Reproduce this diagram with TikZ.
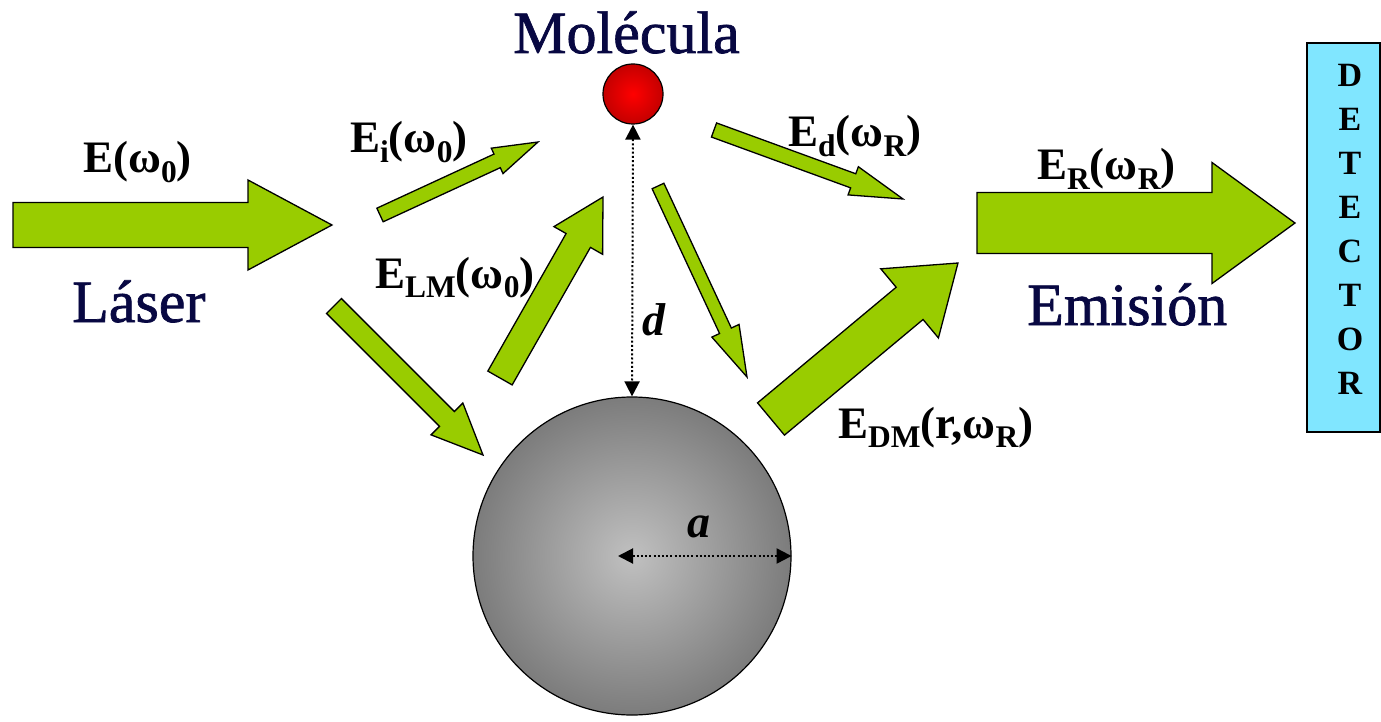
\documentclass[tikz,border=0pt]{standalone}
\usepackage{fontspec}
\setmainfont{Liberation Serif}
\newfontfamily\titelfont[FakeBold=1.2]{Liberation Serif}
\usepackage{graphicx}
\usepackage{tikz}
\usetikzlibrary{arrows.meta, calc, shapes}

\definecolor{laubgruen}{RGB}{153,204,0}
\definecolor{nachtblau}{RGB}{8,8,66}
\definecolor{hellcyan}{RGB}{128,230,255}

\newcommand{\lowsub}[1]{\raisebox{-0.22em}{\scalebox{0.7}{#1}}}
% Blockpfeil (x1,y1)(x2,y2){Schaft}{Kopfbreite}{Kopflaenge}
\def\blockpfeil(#1,#2)(#3,#4)#5#6#7{%
  \pgfmathsetmacro{\bpwinkel}{atan2(#2-#4,#3-#1)}%
  \pgfmathsetmacro{\bplaenge}{veclen(#3-#1,#4-#2)}%
  \begin{scope}[shift={(#1,#2)}, rotate=\bpwinkel]
    \draw[greenarrow] (0,-#5/2) -- ({\bplaenge-#7},-#5/2) -- ({\bplaenge-#7},-#6/2)
      -- (\bplaenge,0) -- ({\bplaenge-#7},#6/2) -- ({\bplaenge-#7},#5/2) -- (0,#5/2) -- cycle;
  \end{scope}}

\begin{document}
\begin{tikzpicture}[x=1pt, y=-1pt,
      greenarrow/.style={fill=laubgruen, draw=black, line width=1.3pt, line join=miter},
      titel/.style={text=nachtblau, font=\fontsize{60}{66}\titelfont, inner sep=0pt, anchor=base west},
      eqlabel/.style={font=\fontsize{45}{50}\selectfont\bfseries, inner sep=0pt, anchor=base west},
      varlabel/.style={font=\fontsize{46}{50}\selectfont\bfseries\itshape, inner sep=0pt, anchor=base west},
      detletter/.style={font=\fontsize{34}{36}\selectfont\bfseries, inner sep=0pt},
      spitze/.tip={Triangle[length=15pt,width=15pt]},
      masspfeil/.style={dash pattern=on 2pt off 2.2pt, line width=2pt, spitze-spitze}]
  \useasboundingbox (0,0) rectangle (1381,722);
  % Kugel und Molekuel
  \node[circle, draw=black, line width=1.2pt, minimum size=318pt, inner sep=0pt,
        inner color={rgb,255:red,192;green,192;blue,192}, outer color={rgb,255:red,124;green,124;blue,124}] (kugel) at (632,556) {};
  \node[circle, draw=black, line width=1.2pt, minimum size=60pt, inner sep=0pt,
        inner color=red, outer color={rgb,255:red,196;green,0;blue,0}] (molekuel) at (633,94) {};
  % Abstaende d und a
  \draw[masspfeil] (molekuel.south) -- (kugel.north);
  \coordinate (mitte) at ([xshift=-14pt]kugel.center);
  \draw[masspfeil] (mitte) -- (kugel.east);
  % Pfeile zeichnen
  \blockpfeil(13,225)(332,225){45}{90}{84}
  \blockpfeil(977,223)(1295,223){61}{121}{83}
  \blockpfeil(380,215)(538,142){15}{28}{45}
  \blockpfeil(500,378)(603,197){28}{56}{50}
  \blockpfeil(334,306)(483,455){21}{45}{51}
  \blockpfeil(714,130)(903,199){15}{30}{53}
  \blockpfeil(658,186)(747,377){13}{30}{51}
  \blockpfeil(771,419)(958,263){42}{90}{63}
  % Detektor
  \node[draw=black, line width=1.3pt, fill=hellcyan, minimum width=73pt, minimum height=389pt, inner sep=0pt] (detektor) at (1343.5,237.5) {};
  \foreach \ch [count=\i] in {D,E,T,E,C,T,O,R}
    \node[detletter] (det\i) at (1350,{31+44*\i}) {\ch};
  % Beschriftung
  \node[titel] (laser) at (72,322) {Láser};
  \node[titel] (molecula) at (513,53) {Molécula};
  \node[titel] (emision) at (1027,325) {Emisión};
  \node[eqlabel] (el) at (83,173) {E(ω\lowsub{0})};
  \node[eqlabel] (ei) at (350,153) {E\lowsub{i}(ω\lowsub{0})};
  \node[eqlabel] (elm) at (375,288) {E\lowsub{LM}(ω\lowsub{0})};
  \node[eqlabel] (ed) at (788,147) {E\lowsub{d}(ω\lowsub{R})};
  \node[eqlabel] (er) at (1037,180) {E\lowsub{R}(ω\lowsub{R})};
  \node[eqlabel] (edm) at (838,438) {E\lowsub{DM}(r,ω\lowsub{R})};
  \node[varlabel] (dlab) at (642,335) {d};
  \node[varlabel] (alab) at (687,537) {a};
\end{tikzpicture}
\end{document}
